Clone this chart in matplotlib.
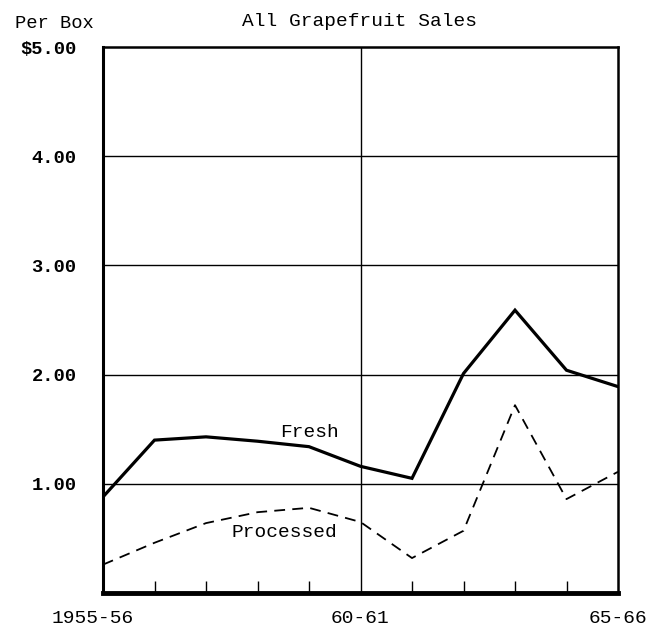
import numpy as np
import matplotlib.pyplot as plt
from matplotlib.transforms import ScaledTranslation

plt.rcParams['font.family'] = ['Liberation Mono', 'DejaVu Sans Mono']

# seasons 1955-56 .. 1965-66 as 0..10
seasons = list(range(11))
fresh = [0.88, 1.40, 1.43, 1.39, 1.34, 1.16, 1.05, 2.01, 2.59, 2.04, 1.89]
processed = [0.26, 0.46, 0.64, 0.74, 0.78, 0.65, 0.32, 0.57, 1.72, 0.86, 1.11]
xtick_pos = [0, 5, 10]
xtick_labels = ["1955-56", "60-61", "65-66"]
ytick_pos = [1, 2, 3, 4, 5]
ytick_labels = ["1.00", "2.00", "3.00", "4.00", "$5.00"]

fig = plt.figure(figsize=(6.53, 6.29), dpi=100)
ax = fig.add_axes([103 / 653, 1 - 593 / 629, (618 - 103) / 653, (593 - 47) / 629])

ax.plot(seasons, fresh, color='black', lw=2.3, solid_joinstyle='miter')
ax.plot(seasons, processed, color='black', lw=1.3, dashes=(6, 4))

ax.set_xlim(0, 10)
ax.set_ylim(0, 5)

# grid
for y in [1, 2, 3, 4]:
    ax.axhline(y, color='black', lw=1.0)
ax.axvline(5, color='black', lw=1.0)

# minor ticks on the bottom
ax.set_xticks(range(1, 10), minor=True)
ax.tick_params(axis='x', which='minor', direction='in', length=9, width=1.0,
               color='black')
ax.set_xticks(xtick_pos)
ax.set_xticklabels(xtick_labels, fontsize=14)
ax.tick_params(axis='x', which='major', length=0, pad=12)
ax.set_yticks(ytick_pos)
ax.set_yticklabels(ytick_labels, fontsize=13.5, fontweight='bold')
ax.tick_params(axis='y', length=0, pad=19)

# first year label sits a little left of the axis corner
first = ax.get_xticklabels()[0]
first.set_transform(first.get_transform() + ScaledTranslation(-10 / 100, 0, fig.dpi_scale_trans))

ax.spines['bottom'].set_linewidth(3.5)
ax.spines['left'].set_linewidth(2.2)
ax.spines['top'].set_linewidth(1.8)
ax.spines['right'].set_linewidth(1.8)

ax.text(4.01, 1.47, "Fresh", fontsize=14, ha='center', va='center')
ax.text(3.52, 0.55, "Processed", fontsize=14, ha='center', va='center')

fig.text(360 / 653, 1 - 21 / 629, "All Grapefruit Sales", fontsize=14,
         ha='center', va='center')
fig.text(54 / 653, 1 - 23 / 629, "Per Box", fontsize=13.5,
         ha='center', va='center')

fig.savefig("out.png", dpi=100)
